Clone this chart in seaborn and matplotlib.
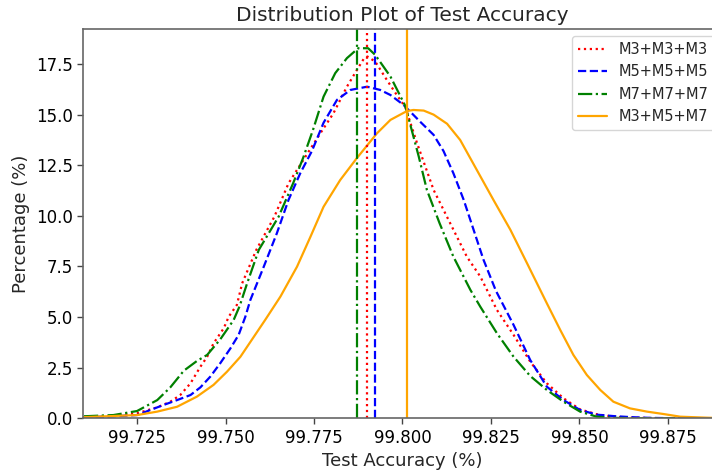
import numpy as np
import pandas as pd
import matplotlib
matplotlib.use("Agg")
import matplotlib.pyplot as plt
import seaborn as sns

# ---- data ----
labels = ["M3+M3+M3", "M5+M5+M5", "M7+M7+M7", "M3+M5+M7"]

m3_x = [99.7100, 99.7183, 99.7250, 99.7307, 99.7344, 99.7372, 99.7401, 99.7429, 99.7448,
        99.7466, 99.7495, 99.7509, 99.7532, 99.7547, 99.7587, 99.7638, 99.7678, 99.7738,
        99.7768, 99.7805, 99.7843, 99.7871, 99.7890, 99.7901, 99.7923, 99.7956, 99.7984,
        99.8008, 99.8041, 99.8088, 99.8135, 99.8182, 99.8220, 99.8267, 99.8314, 99.8361,
        99.8408, 99.8455, 99.8502, 99.8549, 99.8596, 99.8643, 99.8750, 99.8900]
m3_y = [0.05, 0.12, 0.25, 0.54, 0.82, 1.15, 1.73, 2.55, 3.04,
        3.70, 4.45, 5.02, 5.60, 6.67, 8.32, 9.96, 11.61, 13.26,
        14.08, 15.07, 16.38, 17.20, 17.74, 17.87, 17.62, 16.71, 15.97,
        15.37, 13.60, 11.28, 9.63, 7.98, 7.00, 5.35, 4.12, 2.80,
        1.73, 0.99, 0.44, 0.20, 0.08, 0.03, 0.00, 0.00]

m5_x = [99.7100, 99.7183, 99.7250, 99.7325, 99.7363, 99.7401, 99.7429, 99.7457, 99.7485,
        99.7514, 99.7537, 99.7556, 99.7570, 99.7608, 99.7645, 99.7678, 99.7711, 99.7744,
        99.7777, 99.7815, 99.7853, 99.7900, 99.7937, 99.7966, 99.8003, 99.8050, 99.8088,
        99.8116, 99.8144, 99.8173, 99.8201, 99.8229, 99.8264, 99.8314, 99.8361, 99.8408,
        99.8455, 99.8502, 99.8549, 99.8596, 99.8643, 99.8700, 99.8800, 99.8900]
m5_y = [0.05, 0.10, 0.16, 0.66, 0.90, 1.15, 1.53, 2.06, 2.72,
        3.46, 4.12, 5.02, 5.84, 7.49, 9.14, 10.79, 12.10, 13.20,
        14.60, 15.73, 16.22, 16.38, 16.22, 15.97, 15.48, 14.65, 14.00,
        13.20, 12.10, 10.79, 9.31, 7.83, 6.30, 4.61, 2.88, 1.56,
        0.90, 0.41, 0.18, 0.11, 0.06, 0.02, 0.00, 0.00]

m7_x = [99.7100, 99.7183, 99.7250, 99.7307, 99.7344, 99.7382, 99.7419, 99.7448, 99.7485,
        99.7523, 99.7540, 99.7561, 99.7594, 99.7650, 99.7691, 99.7719, 99.7747, 99.7777,
        99.7810, 99.7843, 99.7875, 99.7903, 99.7923, 99.7966, 99.8008, 99.8046, 99.8069,
        99.8105, 99.8144, 99.8192, 99.8220, 99.8267, 99.8314, 99.8361, 99.8408, 99.8455,
        99.8502, 99.8549, 99.8600, 99.8700, 99.8900]
m7_y = [0.10, 0.16, 0.36, 0.90, 1.53, 2.35, 2.83, 3.13, 3.90,
        4.86, 5.55, 6.67, 8.32, 9.96, 11.61, 12.85, 14.24, 15.89,
        17.05, 17.79, 18.28, 18.28, 17.95, 16.88, 15.43, 12.93, 11.28,
        9.63, 7.98, 6.34, 5.51, 4.20, 3.04, 2.09, 1.40, 0.82,
        0.33, 0.08, 0.02, 0.00, 0.00]

mix_x = [99.7090, 99.7250, 99.7307, 99.7363, 99.7419, 99.7466, 99.7504, 99.7542, 99.7612,
         99.7655, 99.7702, 99.7740, 99.7777, 99.7824, 99.7871, 99.7928, 99.7966, 99.8013,
         99.8031, 99.8060, 99.8088, 99.8126, 99.8163, 99.8210, 99.8257, 99.8305, 99.8352,
         99.8408, 99.8446, 99.8483, 99.8521, 99.8559, 99.8596, 99.8643, 99.8691, 99.8738,
         99.8785, 99.8860, 99.8900]
mix_y = [0.05, 0.16, 0.33, 0.57, 1.07, 1.65, 2.30, 3.04, 4.86,
         6.01, 7.49, 8.97, 10.45, 11.77, 12.85, 14.08, 14.74, 15.18,
         15.23, 15.20, 15.00, 14.55, 13.75, 12.27, 10.79, 9.31, 7.66,
         5.68, 4.36, 3.13, 2.14, 1.40, 0.82, 0.49, 0.33, 0.21,
         0.08, 0.03, 0.01]

means = [99.7901, 99.7923, 99.7871, 99.8014]

xticks = [99.725, 99.750, 99.775, 99.800, 99.825, 99.850, 99.875]
yticks = [0.0, 2.5, 5.0, 7.5, 10.0, 12.5, 15.0, 17.5]

# ---- styling ----
colors = ["red", "blue", "green", "orange"]
styles = [":", "--", "-.", "-"]

sns.set_style("white")
plt.rcParams["font.family"] = ["DejaVu Sans"]

fig = plt.figure(figsize=(7.12, 4.72), dpi=100)
# the reference is cropped on the right: the axes run slightly past the image edge
ax_left, ax_right, ax_top, ax_bottom = 83.3, 722.0, 29.0, 418.3
ax = fig.add_axes([ax_left / 712, 1 - ax_bottom / 472,
                   (ax_right - ax_left) / 712, (ax_bottom - ax_top) / 472])

series = [(m3_x, m3_y), (m5_x, m5_y), (m7_x, m7_y), (mix_x, mix_y)]
for (xs, ys), lab, c, ls in zip(series, labels, colors, styles):
    df = pd.DataFrame({"x": xs, "y": ys})
    sns.lineplot(data=df, x="x", y="y", ax=ax, color=c, linestyle=ls,
                 linewidth=1.6, label=lab, estimator=None, sort=True)

for m, c, ls in zip(means, colors, styles):
    ax.axvline(m, color=c, linestyle=ls, linewidth=1.6)

ax.set_xlim(99.7098, 99.8903)
ax.set_ylim(0, 19.23)
ax.set_xticks(xticks)
ax.set_xticklabels([f"{v:.3f}" for v in xticks])
ax.set_yticks(yticks)
ax.set_yticklabels([f"{v:.1f}" for v in yticks])

for sp in ax.spines.values():
    sp.set_color("#666666")
    sp.set_linewidth(1.2)
ax.tick_params(axis="both", which="major", direction="out", length=4, width=1,
               color="#444444", labelsize=12, labelcolor="black",
               bottom=True, left=True, top=False, right=False)

ax.set_xlabel("Test Accuracy (%)", fontsize=13)
ax.set_ylabel("Percentage (%)", fontsize=13)
ax.set_title("Distribution Plot of Test Accuracy", fontsize=14.5)

leg = ax.legend(loc="upper right", fontsize=10.5, frameon=True, fancybox=True)
leg.get_frame().set_edgecolor("#cccccc")

fig.savefig("out.png", dpi=100)
